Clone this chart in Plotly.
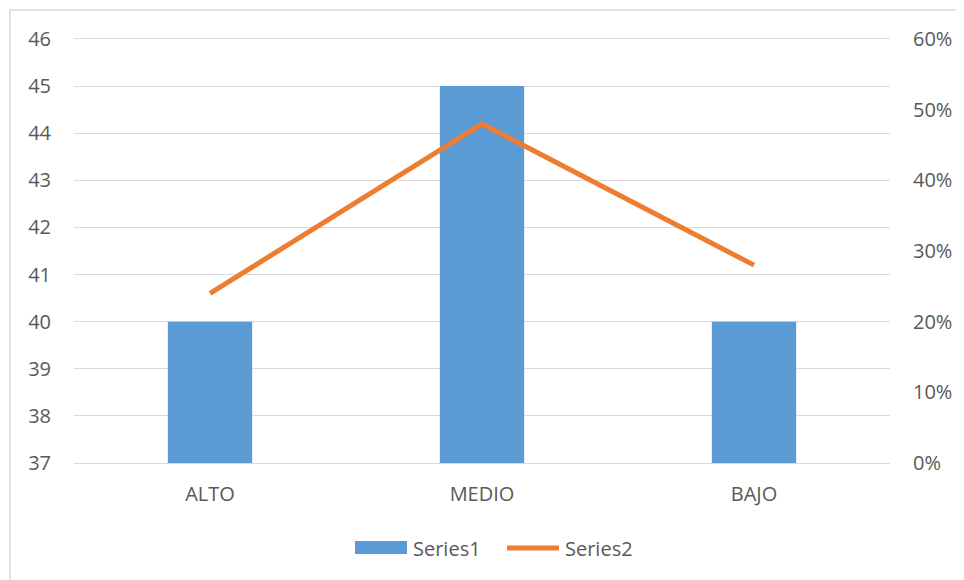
import plotly.graph_objects as go

categories = ["ALTO", "MEDIO", "BAJO"]
series1 = [40, 45, 40]
series2 = [0.24, 0.48, 0.28]
left_ticks = list(range(37, 47))
right_ticks = [0, 0.1, 0.2, 0.3, 0.4, 0.5, 0.6]

# page body has an 8px margin; figure sized to fit the window
W, H = 956, 572
L, R, T, B = 66, 74, 31, 117
pw, ph = W - L - R, H - T - B

FONT = "Open Sans"
GRAY = "#595959"
BLUE = "#5B9BD5"
ORANGE = "#ED7D31"
FS = 20


def px(fx):
    return (fx - L) / pw


def py(fy):
    return (T + ph - fy) / ph


fig = go.Figure()
fig.add_trace(go.Bar(x=categories, y=series1, name="Series1",
                     marker=dict(color=BLUE, line=dict(width=0)), yaxis="y"))
fig.add_trace(go.Scatter(x=categories, y=series2, name="Series2", mode="lines",
                         line=dict(color=ORANGE, width=5), yaxis="y2"))

# outer chart border
fig.add_shape(type="rect", xref="paper", yref="paper",
              x0=px(2), x1=px(W + 10), y0=py(H + 10), y1=py(2),
              line=dict(color="#D9D9D9", width=1.5), fillcolor="rgba(0,0,0,0)", layer="below")

# legend
fig.add_shape(type="rect", xref="paper", yref="paper",
              x0=px(347), x1=px(399), y0=py(546), y1=py(533),
              line=dict(width=0), fillcolor=BLUE)
fig.add_shape(type="line", xref="paper", yref="paper",
              x0=px(499), x1=px(551), y0=py(540), y1=py(540),
              line=dict(color=ORANGE, width=5))
fig.add_annotation(xref="paper", yref="paper", x=px(403), y=py(540), text="Series1",
                   showarrow=False, xanchor="left", yanchor="middle",
                   font=dict(family=FONT, size=FS, color=GRAY))
fig.add_annotation(xref="paper", yref="paper", x=px(555), y=py(540), text="Series2",
                   showarrow=False, xanchor="left", yanchor="middle",
                   font=dict(family=FONT, size=FS, color=GRAY))

fig.update_layout(
    width=W, height=H,
    margin=dict(l=L, r=R, t=T, b=B),
    paper_bgcolor="white", plot_bgcolor="white",
    font=dict(family=FONT, size=FS, color=GRAY),
    bargap=0.69,
    showlegend=False,
    xaxis=dict(showgrid=False, showline=True, mirror=True, linecolor="#D9D9D9", linewidth=1.2,
               ticks="", tickfont=dict(size=FS, color=GRAY), ticklabelstandoff=13),
    yaxis=dict(range=[37, 46], tickvals=left_ticks, showgrid=True, gridcolor="#D9D9D9",
               gridwidth=1.2, zeroline=False, showline=False, ticks="",
               tickfont=dict(size=FS, color=GRAY), ticklabelstandoff=22),
    yaxis2=dict(range=[0, 0.6], tickvals=right_ticks, tickformat=".0%", overlaying="y",
                side="right", showgrid=False, zeroline=False, showline=False, ticks="",
                tickfont=dict(size=FS, color=GRAY), ticklabelstandoff=22),
)

fig.write_html("out.html")
